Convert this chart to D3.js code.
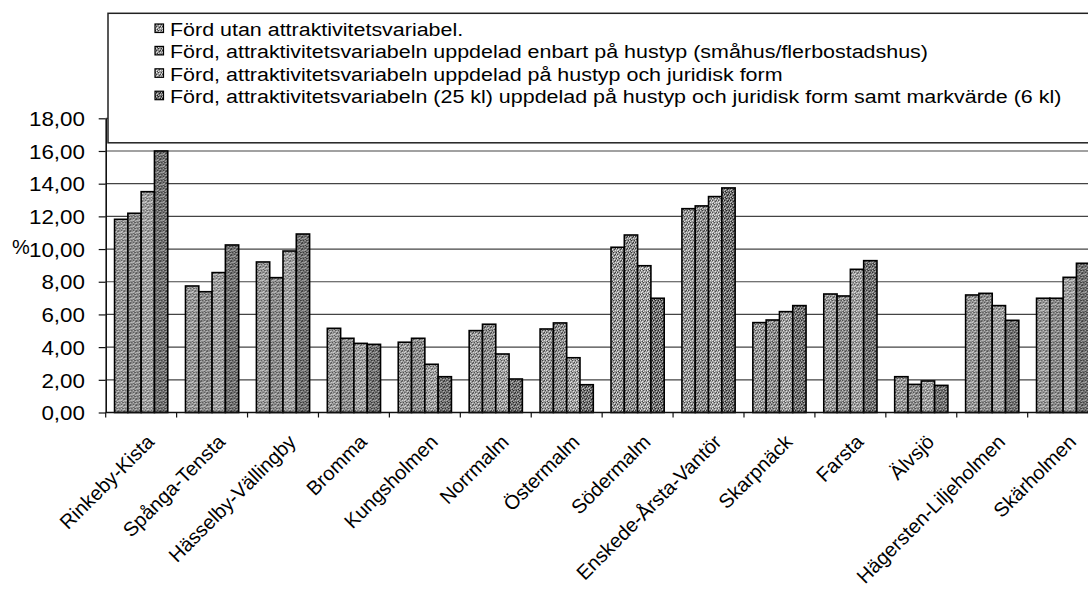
<!DOCTYPE html>
<html><head><meta charset="utf-8">
<script src="https://cdn.jsdelivr.net/npm/d3@7"></script>
<style>html,body{margin:0;padding:0;background:#fff;overflow:hidden}</style>
</head><body>
<svg id="chart" width="1088" height="593"></svg>
<script>
const categories = ["Rinkeby-Kista","Spånga-Tensta","Hässelby-Vällingby","Bromma","Kungsholmen","Norrmalm","Östermalm","Södermalm","Enskede-Årsta-Vantör","Skarpnäck","Farsta","Älvsjö","Hägersten-Liljeholmen","Skärholmen"];
const seriesNames = [
  "Förd utan attraktivitetsvariabel.",
  "Förd, attraktivitetsvariabeln uppdelad enbart på hustyp (småhus/flerbostadshus)",
  "Förd, attraktivitetsvariabeln uppdelad på hustyp och juridisk form",
  "Förd, attraktivitetsvariabeln (25 kl) uppdelad på hustyp och juridisk form samt markvärde (6 kl)"
];
const s1 = [11.82, 7.74, 9.21, 5.15, 4.30, 5.01, 5.11, 10.11, 12.47, 5.50, 7.25, 2.19, 7.19, 6.99];
const s2 = [12.19, 7.39, 8.25, 4.54, 4.54, 5.40, 5.48, 10.86, 12.64, 5.66, 7.13, 1.72, 7.29, 6.99];
const s3 = [13.51, 8.56, 9.88, 4.23, 2.95, 3.58, 3.35, 8.98, 13.21, 6.17, 8.76, 1.93, 6.54, 8.27];
const s4 = [16.00, 10.25, 10.92, 4.17, 2.19, 2.05, 1.70, 6.99, 13.74, 6.54, 9.29, 1.66, 5.64, 9.13];
const yTicks = [0, 2, 4, 6, 8, 10, 12, 14, 16, 18];
const yAxisLabel = "%";

const seriesValues = [s1, s2, s3, s4];
const svg = d3.select("#chart");
const FONT = "'Liberation Sans', Arial, Helvetica, sans-serif";

// halftone-like fill patterns (fixed 6x6 tiles)
const defs = svg.append("defs");
const patSpecs = [
  {base:"#959595", light:"#e6e6e6", dark:"#3a3a3a"},
  {base:"#8a8a8a", light:"#d6d6d6", dark:"#333"},
  {base:"#9c9c9c", light:"#ececec", dark:"#444"},
  {base:"#6e6e6e", light:"#c4c4c4", dark:"#1a1a1a"}
];
const lightPix = [[0,0],[3,1],[5,2],[1,3],[4,4],[2,5],[0,4]];
const darkPix = [[2,0],[5,0],[0,2],[3,3],[1,5],[4,2]];
patSpecs.forEach((p, i) => {
  const pat = defs.append("pattern").attr("id", "pat" + i)
    .attr("patternUnits", "userSpaceOnUse").attr("width", 6).attr("height", 6);
  pat.append("rect").attr("width", 6).attr("height", 6).attr("fill", p.base);
  lightPix.forEach(([x,y]) => pat.append("rect").attr("x",x).attr("y",y).attr("width",1).attr("height",1).attr("fill",p.light));
  darkPix.forEach(([x,y]) => pat.append("rect").attr("x",x).attr("y",y).attr("width",1).attr("height",1).attr("fill",p.dark));
});

const plotL = 105.7, plotR = 1098.6, plotT = 118.3, plotB = 412.5;
const y = d3.scaleLinear().domain([0, 18]).range([plotB, plotT]);
const x0 = d3.scaleBand().domain(categories).range([plotL, plotR]).paddingInner(0.25).paddingOuter(0.125);
const x1 = d3.scaleBand().domain(d3.range(4)).range([0, x0.bandwidth()]);

// gridlines
svg.append("g").selectAll("line").data(yTicks.filter(t => t > 0)).join("line")
  .attr("x1", plotL).attr("x2", plotR).attr("y1", d => y(d)).attr("y2", d => y(d))
  .attr("stroke", "#444").attr("stroke-width", 1.2);

// bars
const groups = svg.append("g").selectAll("g").data(categories).join("g")
  .attr("transform", d => `translate(${x0(d)},0)`);
groups.selectAll("rect").data((d, ci) => seriesValues.map((s, si) => ({si, v: s[ci]}))).join("rect")
  .attr("x", d => x1(d.si)).attr("width", x1.bandwidth())
  .attr("y", d => y(d.v)).attr("height", d => y(0) - y(d.v))
  .attr("fill", d => `url(#pat${d.si})`).attr("stroke", "#000").attr("stroke-width", 1.6);

// y axis
const yAxis = d3.axisLeft(y).tickValues(yTicks).tickSize(7).tickSizeOuter(0)
  .tickFormat(d => d3.format(".2f")(d).replace(".", ","));
const gy = svg.append("g").attr("transform", `translate(${plotL},0)`).call(yAxis);
gy.select(".domain").attr("stroke", "#111").attr("stroke-width", 1.6);
gy.selectAll(".tick line").attr("stroke", "#111").attr("stroke-width", 1.2);
gy.selectAll(".tick text").attr("font-family", FONT).attr("font-size", 20).attr("fill", "#000")
  .attr("x", 0).attr("dy", "0.36em")
  .attr("transform", "translate(-20.7,0) scale(1.12,1)").attr("text-anchor", "end");

// x axis
const boundaries = categories.map(c => x0(c) - x0.step() * x0.paddingInner() / 2).concat([plotR]);
svg.append("line").attr("x1", plotL).attr("x2", plotR).attr("y1", plotB).attr("y2", plotB)
  .attr("stroke", "#111").attr("stroke-width", 1.6);
svg.append("g").selectAll("line").data(boundaries).join("line")
  .attr("x1", d => d).attr("x2", d => d).attr("y1", plotB).attr("y2", plotB + 5)
  .attr("stroke", "#111").attr("stroke-width", 1.2);
svg.append("g").selectAll("text").data(categories).join("text")
  .attr("transform", d => `translate(${x0(d) + x0.bandwidth() / 2 + 4},433) rotate(-45)`)
  .attr("text-anchor", "end").attr("dy", "0.72em")
  .attr("font-family", FONT).attr("font-size", 20).attr("fill", "#000")
  .text(d => d);

// y label
svg.append("text").attr("x", 12).attr("y", 254).attr("font-family", FONT).attr("font-size", 20)
  .attr("fill", "#000").text(yAxisLabel);

// legend
const lg = svg.append("g");
lg.append("rect").attr("x", 108).attr("y", 13.3).attr("width", 1100).attr("height", 129.5)
  .attr("fill", "#fff").attr("stroke", "#222").attr("stroke-width", 1.5);
const baselines = [36, 58.4, 80.8, 103.2];
const items = lg.selectAll("g.item").data(seriesNames).join("g").attr("class", "item");
items.append("rect").attr("x", 155).attr("y", (d, i) => baselines[i] - 12).attr("width", 8.5).attr("height", 8.5)
  .attr("fill", (d, i) => `url(#pat${i})`).attr("stroke", "#000").attr("stroke-width", 1.2);
const texts = items.append("text").attr("font-family", FONT).attr("font-size", 19).attr("fill", "#000")
  .text(d => d);
const natural = texts.nodes()[3].getComputedTextLength();
const k = 892 / natural;
texts.attr("transform", (d, i) => `translate(170,${baselines[i]}) scale(${k},1)`);
</script>
</body></html>
